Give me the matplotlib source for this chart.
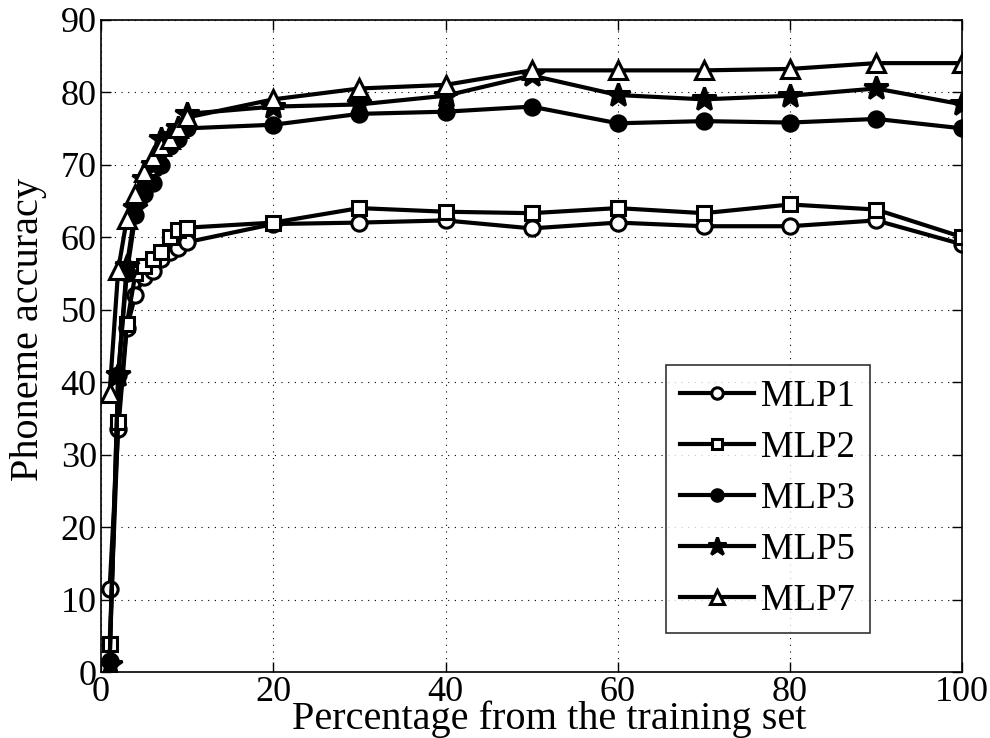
import matplotlib
matplotlib.use('Agg')
import matplotlib.pyplot as plt

plt.rcParams['font.family'] = ['Liberation Serif', 'DejaVu Serif']
plt.rcParams['mathtext.fontset'] = 'stix'

# percentage of training set used
pct = [1, 2, 3, 4, 5, 6, 7, 8, 9, 10, 20, 30, 40, 50, 60, 70, 80, 90, 100]

mlp1 = [11.5, 33.5, 47.5, 52.0, 54.5, 55.3, 57.0, 58.0, 58.5, 59.3,
        61.8, 62.0, 62.3, 61.2, 62.0, 61.5, 61.5, 62.3, 59.0]
mlp2 = [3.8, 34.5, 48.0, 55.0, 56.0, 57.0, 58.0, 60.0, 61.0, 61.3,
        62.0, 64.0, 63.5, 63.3, 64.0, 63.3, 64.5, 63.8, 60.0]
mlp3 = [1.5, 41.0, 55.0, 63.0, 66.0, 67.5, 70.0, 72.5, 73.5, 75.0,
        75.5, 77.0, 77.3, 78.0, 75.7, 76.0, 75.8, 76.3, 75.0]
mlp5 = [1.0, 41.0, 56.0, 64.0, 68.0, 70.0, 73.5, 74.0, 75.0, 77.0,
        78.0, 78.3, 79.5, 82.3, 79.6, 79.0, 79.5, 80.5, 78.3]
mlp7 = [38.5, 55.5, 62.5, 66.0, 69.0, 71.0, 72.5, 73.5, 75.0, 76.5,
        79.0, 80.5, 81.0, 83.0, 83.0, 83.0, 83.2, 84.0, 84.0]

fig = plt.figure(figsize=(9.9, 7.38), dpi=100)
ax = fig.add_axes([0.102, 0.0894, 0.870, 0.884])

lw, mew = 3, 2.2
ax.plot(pct, mlp1, color='black', lw=lw, marker='o', ms=11, mew=mew,
        mfc='white', label='MLP1')
ax.plot(pct, mlp2, color='black', lw=lw, marker='s', ms=10, mew=mew,
        mfc='white', label='MLP2')
ax.plot(pct, mlp3, color='black', lw=lw, marker='o', ms=11, mew=mew,
        mfc='black', label='MLP3')
ax.plot(pct, mlp5, color='black', lw=lw, marker='*', ms=18, mew=mew,
        mfc='black', label='MLP5')
ax.plot(pct, mlp7, color='black', lw=lw, marker='^', ms=13, mew=mew,
        mfc='white', label='MLP7')

ax.set_xlim(0, 100)
ax.set_ylim(0, 90)
ax.set_xticks(range(0, 101, 20))
ax.set_yticks(range(0, 91, 10))
ax.tick_params(direction='in', labelsize=26, length=7, width=1, top=True, right=True, pad=3)
ax.grid(True, linestyle=(0, (1, 5)), color='black', linewidth=0.8)
for s in ax.spines.values():
    s.set_linewidth(1.2)

ax.set_xlabel('Percentage from the training set', fontsize=29)
ax.xaxis.set_label_coords(0.52, -0.043)
ax.set_ylabel('Phoneme accuracy', fontsize=29)
ax.yaxis.set_label_coords(-0.063, 0.525)

leg = ax.legend(loc='lower right', bbox_to_anchor=(0.893, 0.060), fontsize=26.5,
                frameon=True, fancybox=False, edgecolor='black', handlelength=2.0,
                borderpad=0.4, labelspacing=0.45, handletextpad=0.2,
                borderaxespad=0, markerscale=0.75)
leg.get_frame().set_linewidth(1.2)

fig.savefig('out.png', dpi=100)
